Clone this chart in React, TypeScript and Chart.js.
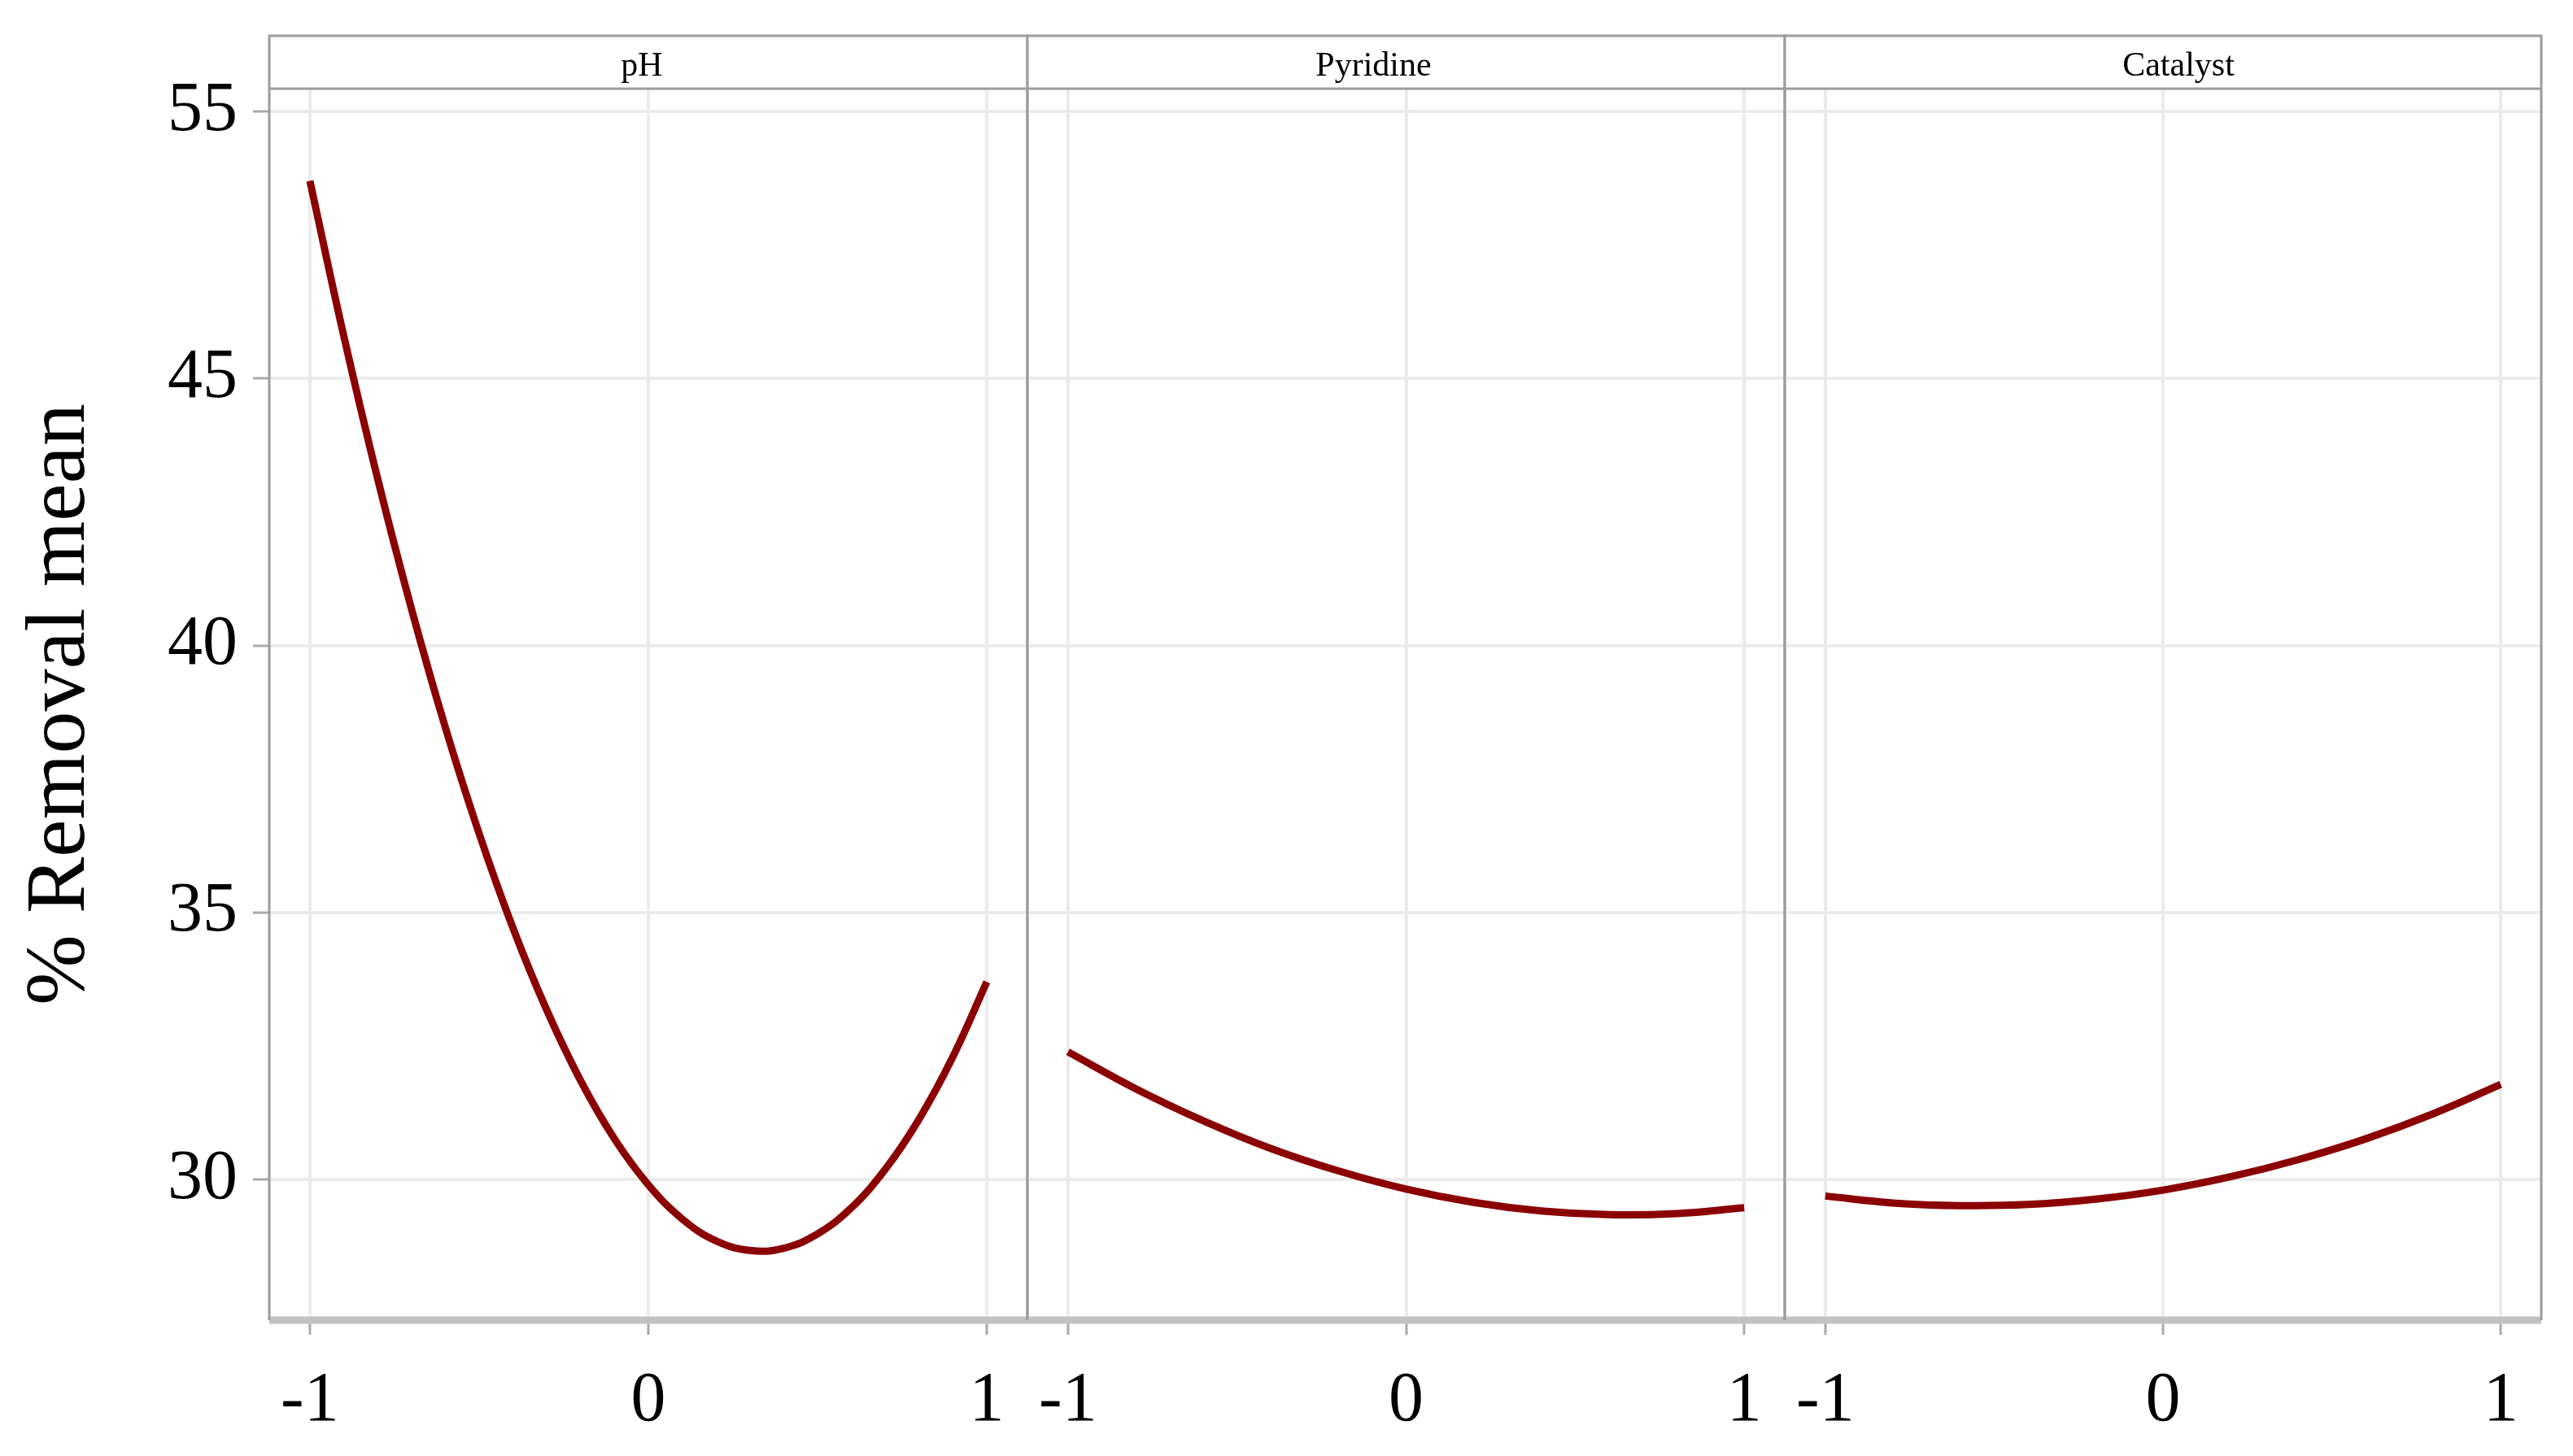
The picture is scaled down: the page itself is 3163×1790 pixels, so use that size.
import React, { useEffect, useRef } from 'react';
import { Chart, registerables } from 'chart.js';

Chart.register(...registerables);

// ---------------- data ----------------
const panelNames = ['pH', 'Pyridine', 'Catalyst'];

const phLevels = [-1, -0.9, -0.8, -0.7, -0.6, -0.5, -0.4, -0.3, -0.2, -0.1, 0, 0.1, 0.2, 0.3, 0.4, 0.5, 0.6, 0.7, 0.8, 0.9, 1];
const phRemoval = [48.7, 45.8, 43.13, 40.69, 38.47, 36.48, 34.71, 33.17, 31.85, 30.76, 29.9, 29.26, 28.85, 28.67, 28.71, 28.98, 29.47, 30.19, 31.13, 32.3, 33.7];

const pyridineLevels = [-1, -0.8, -0.6, -0.4, -0.2, 0, 0.2, 0.4, 0.6, 0.8, 1];
const pyridineRemoval = [32.39, 31.7, 31.1, 30.58, 30.16, 29.82, 29.57, 29.41, 29.34, 29.36, 29.47];

const catalystLevels = [-1, -0.8, -0.6, -0.4, -0.2, 0, 0.2, 0.4, 0.6, 0.8, 1];
const catalystRemoval = [29.69, 29.56, 29.51, 29.53, 29.63, 29.8, 30.05, 30.37, 30.76, 31.23, 31.78];

const xTickValues = [-1, 0, 1];
const xTickLabels = ['-1', '0', '1'];
const yTickValues = [30, 35, 40, 45, 50];
const yTickLabels = ['30', '35', '40', '45', '55'];
const yAxisTitle = '% Removal mean';

// ---------------- layout / style ----------------
const W = 3163;
const H = 1790;
const STRIP_TOP = 44;
const PLOT_TOP = 109;
const PLOT_BOTTOM = 1623;
const PANEL_EDGES = [331, 1263, 2194, 3124];
const STRIP_LABEL_SHIFT = [-8, -40, 19];
const X_RANGE = [-1.12, 1.12];
const Y_RANGE = [27.365, 50.427];
const FONT = '"Liberation Serif", "Times New Roman", serif';
const LINE_COLOR = '#8b0000';

const seriesFor = (i: number) => {
  const xs = [phLevels, pyridineLevels, catalystLevels][i];
  const ys = [phRemoval, pyridineRemoval, catalystRemoval][i];
  return xs.map((x, k) => ({ x, y: ys[k] }));
};

const facetPlugin = {
  id: 'facetFrame',
  afterDraw(chart: any, _args: any, opts: any) {
    const { ctx, chartArea } = chart;
    const { left, right, top, bottom } = chartArea;
    ctx.save();
    // strip background
    ctx.fillStyle = '#ffffff';
    ctx.fillRect(left, STRIP_TOP, right - left, top - STRIP_TOP);
    // bottom band
    ctx.strokeStyle = '#c2c2c2';
    ctx.lineWidth = 9;
    ctx.beginPath();
    ctx.moveTo(left, bottom);
    ctx.lineTo(right, bottom);
    ctx.stroke();
    // frame
    ctx.strokeStyle = '#9c9c9c';
    ctx.lineWidth = 3;
    ctx.beginPath();
    ctx.moveTo(left, bottom);
    ctx.lineTo(left, STRIP_TOP);
    ctx.lineTo(right, STRIP_TOP);
    ctx.lineTo(right, bottom);
    ctx.moveTo(left, top);
    ctx.lineTo(right, top);
    ctx.stroke();
    // strip label
    ctx.fillStyle = '#000000';
    ctx.font = `42px ${FONT}`;
    ctx.textAlign = 'center';
    ctx.textBaseline = 'alphabetic';
    ctx.fillText(opts.label, (left + right) / 2 + opts.shift, 93);
    ctx.restore();
  },
};

function Panel({ index }: { index: number }) {
  const ref = useRef<HTMLCanvasElement | null>(null);

  useEffect(() => {
    if (!ref.current) return;
    const first = index === 0;
    const chart = new Chart(ref.current, {
      type: 'line',
      data: {
        datasets: [
          {
            label: panelNames[index],
            data: seriesFor(index),
            borderColor: LINE_COLOR,
            borderWidth: 9,
            pointRadius: 0,
            tension: 0.4,
            fill: false,
          },
        ],
      },
      options: {
        responsive: false,
        animation: false,
        events: [],
        layout: {
          padding: {
            left: first ? 0 : PANEL_EDGES[index],
            right: W - PANEL_EDGES[index + 1],
            top: PLOT_TOP,
            bottom: 0,
          },
        },
        plugins: {
          legend: { display: false },
          tooltip: { enabled: false },
          facetFrame: { label: panelNames[index], shift: STRIP_LABEL_SHIFT[index] },
        } as any,
        scales: {
          x: {
            type: 'linear',
            min: X_RANGE[0],
            max: X_RANGE[1],
            afterBuildTicks: (s: any) => {
              s.ticks = xTickValues.map((v) => ({ value: v }));
            },
            afterFit: (s: any) => {
              s.height = H - PLOT_BOTTOM;
            },
            ticks: {
              autoSkip: false,
              maxRotation: 0,
              minRotation: 0,
              padding: 31,
              color: '#000000',
              font: { family: FONT, size: 86 },
              callback: (v: any) => {
                const k = xTickValues.indexOf(Number(v));
                return k >= 0 ? xTickLabels[k] : '';
              },
            },
            grid: {
              color: '#ebebeb',
              lineWidth: 4,
              tickLength: 18,
              tickColor: '#a9a9a9',
              tickWidth: 3,
            },
            border: { display: false },
          },
          y: {
            type: 'linear',
            min: Y_RANGE[0],
            max: Y_RANGE[1],
            afterBuildTicks: (s: any) => {
              s.ticks = yTickValues.map((v) => ({ value: v }));
            },
            afterFit: (s: any) => {
              s.width = first ? PANEL_EDGES[0] : 0;
            },
            title: {
              display: first,
              text: yAxisTitle,
              color: '#000000',
              font: { family: FONT, size: 104 },
              padding: { top: 13, bottom: 0 },
            },
            ticks: {
              display: first,
              padding: 19,
              color: '#000000',
              font: { family: FONT, size: 86 },
              callback: (v: any) => {
                const k = yTickValues.indexOf(Number(v));
                return k >= 0 ? yTickLabels[k] : '';
              },
            },
            grid: {
              color: '#ebebeb',
              lineWidth: 4,
              drawTicks: first,
              tickLength: 20,
              tickColor: '#a9a9a9',
              tickWidth: 3,
            },
            border: { display: false },
          },
        },
      },
      plugins: [facetPlugin],
    } as any);
    return () => chart.destroy();
  }, [index]);

  return (
    <canvas
      ref={ref}
      width={W}
      height={H}
      style={{ position: 'absolute', left: 0, top: 0, width: W, height: H }}
    />
  );
}

export default function App() {
  return (
    <div style={{ position: 'absolute', left: 0, top: 0, width: W, height: H, background: '#ffffff' }}>
      {panelNames.map((_, i) => (
        <Panel key={i} index={i} />
      ))}
    </div>
  );
}
